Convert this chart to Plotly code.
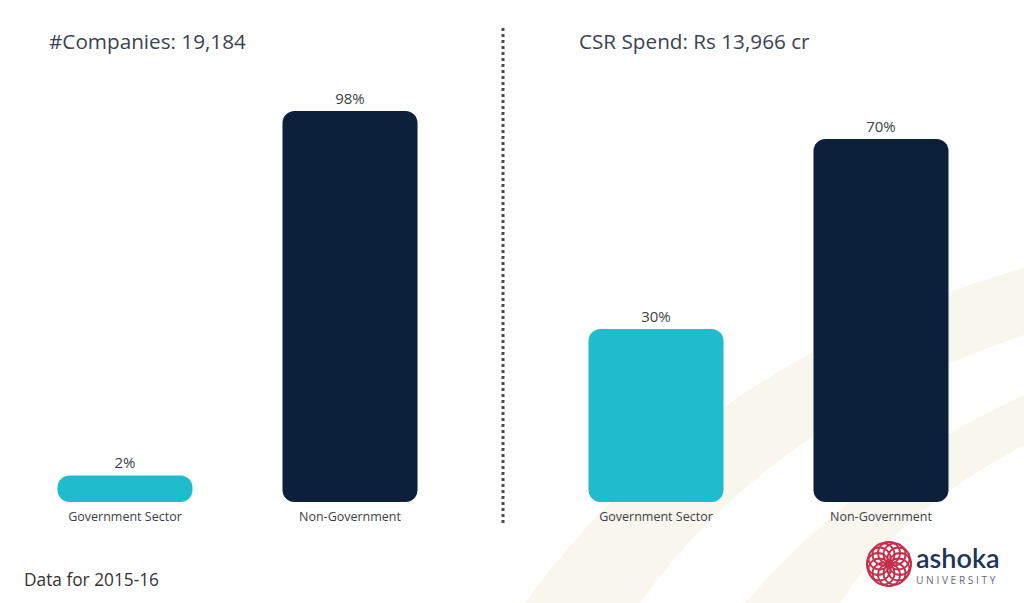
import math
import plotly.graph_objects as go

# ---------------- data ----------------
categories = ["Government Sector", "Non-Government"]
companies_pct = [2, 98]
spend_pct = [30, 70]
titles = ["#Companies: 19,184", "CSR Spend: Rs 13,966 cr"]
footnote = "Data for 2015-16"

# ---------------- style ----------------
W, H = 1024, 603
CYAN = "#1fbccd"
NAVY = "#0c1f3b"
BAR_COLORS = [CYAN, NAVY]
TXT = "#3a3f47"
FONT = "Open Sans"
BEIGE = "#f9f6ee"

def px(x):
    return x / W

def py(y):
    return 1 - y / H

# axis floor (below zero) for each panel, so short bars keep a visible body
floors = [-5.0, -6.4]
ranges = [[-5.0, 111.4], [-6.4, 86.65]]
x_domains = [[px(12.5), px(462.5)], [px(543.5), px(993.5)]]
y_domain = [py(502), py(60)]

fig = go.Figure()

panels = [companies_pct, spend_pct]
for i, vals in enumerate(panels):
    xa = "x" if i == 0 else "x2"
    ya = "y" if i == 0 else "y2"
    b = floors[i]
    fig.add_trace(go.Bar(
        x=categories, y=[v - b for v in vals], base=[b] * len(vals),
        marker=dict(color=BAR_COLORS, line=dict(width=0)), width=0.6,
        text=[f"{v}%" for v in vals], textposition="outside",
        textfont=dict(family=FONT, size=15, color=TXT), cliponaxis=False,
        xaxis=xa, yaxis=ya, showlegend=False,
        hovertemplate="%{x}: %{text}<extra></extra>",
    ))

axis_x = dict(showgrid=False, zeroline=False, showline=False, ticks="",
              ticklabelstandoff=5,
              tickfont=dict(family=FONT, size=12.5, color=TXT), fixedrange=True)
axis_y = dict(visible=False, showgrid=False, zeroline=False, fixedrange=True)

shapes = []
shapes.append(dict(
    type="path", xref="paper", yref="paper", layer="below", line=dict(width=0),
    fillcolor=BEIGE,
    path=(f"M {px(525)},{py(603)} Q {px(700)},{py(360)} {px(1024)},{py(268)} "
          f"L {px(1024)},{py(335)} Q {px(770)},{py(420)} {px(640)},{py(603)} Z"),
))
shapes.append(dict(
    type="path", xref="paper", yref="paper", layer="below", line=dict(width=0),
    fillcolor=BEIGE,
    path=(f"M {px(745)},{py(603)} Q {px(860)},{py(470)} {px(1024)},{py(395)} "
          f"L {px(1024)},{py(445)} Q {px(900)},{py(510)} {px(840)},{py(603)} Z"),
))
shapes.append(dict(type="line", xref="paper", yref="paper",
                   x0=px(503), x1=px(503), y0=py(28), y1=py(523),
                   line=dict(color="#4a4a4a", width=3, dash="dot")))

cx, cy, r = 889, 564, 11
n = 12
for k in range(n):
    a = 2 * math.pi * k / n
    ccx = cx + r * math.cos(a)
    ccy = cy + r * math.sin(a)
    shapes.append(dict(type="circle", xref="paper", yref="paper",
                       x0=px(ccx - r), x1=px(ccx + r), y0=py(ccy + r), y1=py(ccy - r),
                       line=dict(color="#c4304c", width=1.8)))
shapes.append(dict(type="circle", xref="paper", yref="paper",
                   x0=px(cx - 22), x1=px(cx + 22), y0=py(cy + 22), y1=py(cy - 22),
                   line=dict(color="#c4304c", width=1.6)))

annotations = [
    dict(text=titles[0], x=px(47), y=py(41), xref="paper", yref="paper",
         xanchor="left", yanchor="middle", showarrow=False,
         font=dict(family=FONT, size=20.7, color="#3a4352")),
    dict(text=titles[1], x=px(577), y=py(41), xref="paper", yref="paper",
         xanchor="left", yanchor="middle", showarrow=False,
         font=dict(family=FONT, size=20.7, color="#3a4352")),
    dict(text=footnote, x=px(22), y=py(579), xref="paper", yref="paper",
         xanchor="left", yanchor="middle", showarrow=False,
         font=dict(family=FONT, size=17.3, color="#333333")),
    dict(text="ashoka", x=px(914), y=py(557), xref="paper", yref="paper",
         xanchor="left", yanchor="middle", showarrow=False,
         font=dict(family="Lato", size=27, color="#1d3557", weight=600)),
    dict(text="U N I V E R S I T Y", x=px(914), y=py(580), xref="paper", yref="paper",
         xanchor="left", yanchor="middle", showarrow=False,
         font=dict(family=FONT, size=10.2, color="#666b73")),
]

fig.update_layout(
    width=W, height=H,
    margin=dict(l=0, r=0, t=0, b=0),
    paper_bgcolor="white", plot_bgcolor="rgba(0,0,0,0)",
    barmode="overlay", barcornerradius=12,
    showlegend=False,
    xaxis=dict(domain=x_domains[0], anchor="y", **axis_x),
    yaxis=dict(domain=y_domain, anchor="x", range=ranges[0], **axis_y),
    xaxis2=dict(domain=x_domains[1], anchor="y2", **axis_x),
    yaxis2=dict(domain=y_domain, anchor="x2", range=ranges[1], **axis_y),
    shapes=shapes,
    annotations=annotations,
)

fig.write_html("out.html")
